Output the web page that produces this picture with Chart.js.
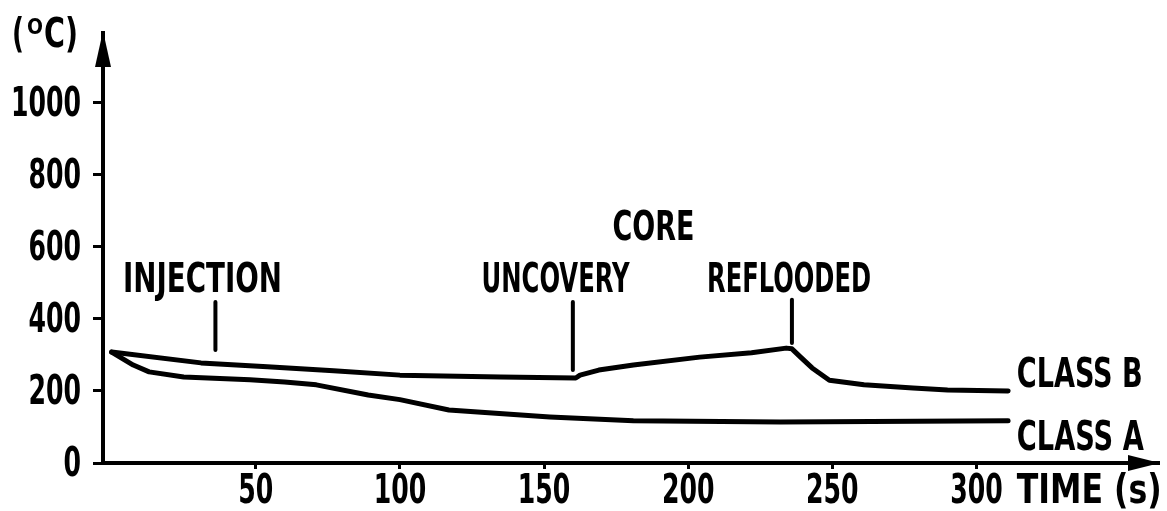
<!DOCTYPE html>
<html>
<head>
<meta charset="utf-8">
<script src="https://cdn.jsdelivr.net/npm/chart.js@4/dist/chart.umd.min.js"></script>
<style>
  html, body { margin: 0; padding: 0; background: #fff; }
  canvas { display: block; }
</style>
</head>
<body>
<canvas id="c" width="1167" height="511"></canvas>
<script>
// Cladding temperature (°C) against time (s)
const timeB = [0, 31, 54, 77, 100, 135, 161, 162.5, 169, 181, 204, 222, 234, 236, 239, 243, 249, 261, 278, 290, 311];
const tempB = [308, 278, 267, 256, 244, 239, 236, 244, 258, 272, 294, 306, 319, 317, 294, 264, 230, 217, 208, 203, 200];

const timeA = [0, 7.5, 13, 25, 48, 60, 71, 89, 100, 117, 152, 181, 232, 311];
const tempA = [308, 272, 253, 239, 231, 225, 217, 189, 176, 147, 128, 117, 114, 117];

const yTicks = [0, 200, 400, 600, 800, 1000];
const xTicks = [50, 100, 150, 200, 250, 300];

// Events marked along the transient
const eventNames = ['INJECTION', 'UNCOVERY', 'REFLOODED'];
const eventTimes = [36, 160, 236];
const markerFrom = [314, 258, 333];
const markerTo = [447, 447, 453];

const FONT = '"DejaVu Sans Condensed", "DejaVu Sans", sans-serif';
const DIGIT_W = 17.5;

const toPoints = (ts, vs) => ts.map((t, i) => ({ x: t, y: vs[i] }));

function text(ctx, str, x, y, align, size, maxW) {
  ctx.font = 'bold ' + size + 'px ' + FONT;
  ctx.textAlign = align;
  ctx.textBaseline = 'alphabetic';
  ctx.fillStyle = '#000';
  if (maxW) ctx.fillText(str, x, y, maxW); else ctx.fillText(str, x, y);
}

const decorations = {
  id: 'decorations',
  afterDraw(chart) {
    const ctx = chart.ctx;
    const xs = chart.scales.x, ys = chart.scales.y;
    const a = chart.chartArea;
    ctx.save();

    // tick labels, set in a narrow lettering
    xs.ticks.forEach((t, i) => {
      const s = String(t.value);
      text(ctx, s, xs.getPixelForTick(i), a.bottom + 40, 'center', 40, s.length * DIGIT_W);
    });
    ys.ticks.forEach((t, i) => {
      const s = String(t.value);
      text(ctx, s, a.left - 22, ys.getPixelForTick(i) + 13, 'right', 40, s.length * DIGIT_W);
    });

    // arrow heads on both axes
    ctx.fillStyle = '#000';
    ctx.beginPath();
    ctx.moveTo(a.left, a.top - 2);
    ctx.lineTo(a.left - 8, a.top + 34);
    ctx.lineTo(a.left + 8, a.top + 34);
    ctx.closePath();
    ctx.fill();
    ctx.beginPath();
    ctx.moveTo(a.right + 2, a.bottom);
    ctx.lineTo(a.right - 30, a.bottom - 8);
    ctx.lineTo(a.right - 30, a.bottom + 8);
    ctx.closePath();
    ctx.fill();

    // event markers
    ctx.strokeStyle = '#000';
    ctx.lineWidth = 4;
    ctx.lineCap = 'round';
    eventTimes.forEach((t, i) => {
      const px = xs.getPixelForValue(t);
      ctx.beginPath();
      ctx.moveTo(px, ys.getPixelForValue(markerFrom[i]));
      ctx.lineTo(px, ys.getPixelForValue(markerTo[i]));
      ctx.stroke();
    });

    // event labels
    const labelAt = [31.5, 154, 235];
    const labelW = [159, 148, 164];
    eventNames.forEach((n, i) => {
      text(ctx, n, xs.getPixelForValue(labelAt[i]), ys.getPixelForValue(476), 'center', 40, labelW[i]);
    });
    text(ctx, 'CORE', xs.getPixelForValue(188), ys.getPixelForValue(619), 'center', 40, 82);

    // series names
    text(ctx, 'CLASS B', xs.getPixelForValue(314), ys.getPixelForValue(211), 'left', 40, 126);
    text(ctx, 'CLASS A', xs.getPixelForValue(314), ys.getPixelForValue(36), 'left', 40, 127);

    // axis titles
    text(ctx, 'TIME (s)', xs.getPixelForValue(314), a.bottom + 40, 'left', 40, 145);
    text(ctx, '(', 12, 47, 'left', 40, 12);
    text(ctx, 'O', 27, 34, 'left', 21, 16);
    text(ctx, 'C)', 44, 47, 'left', 40, 34);

    ctx.restore();
  }
};

new Chart(document.getElementById('c'), {
  type: 'line',
  data: {
    datasets: [
      { label: 'CLASS B', data: toPoints(timeB, tempB) },
      { label: 'CLASS A', data: toPoints(timeA, tempA) }
    ]
  },
  options: {
    responsive: false,
    animation: false,
    events: [],
    layout: { padding: { top: 33, right: 9, left: 0, bottom: 0 } },
    elements: {
      line: { borderColor: '#000', borderWidth: 5, tension: 0, fill: false, borderJoinStyle: 'round', borderCapStyle: 'round' },
      point: { radius: 0 }
    },
    plugins: { legend: { display: false }, tooltip: { enabled: false } },
    scales: {
      x: {
        type: 'linear',
        min: -3,
        max: 363,
        afterFit: s => { s.height = 48; },
        afterBuildTicks: s => { s.ticks = xTicks.map(v => ({ value: v })); },
        ticks: { display: false, autoSkip: false, maxRotation: 0 },
        grid: { drawOnChartArea: false, drawTicks: true, tickLength: 6, color: '#000', lineWidth: 3 },
        border: { display: true, color: '#000', width: 4 }
      },
      y: {
        type: 'linear',
        min: 0,
        max: 1194,
        afterFit: s => { s.width = 103; },
        afterBuildTicks: s => { s.ticks = yTicks.map(v => ({ value: v })); },
        ticks: { display: false, autoSkip: false },
        grid: { drawOnChartArea: false, drawTicks: true, tickLength: 10, color: '#000', lineWidth: 3 },
        border: { display: true, color: '#000', width: 4 }
      }
    }
  },
  plugins: [decorations]
});
</script>
</body>
</html>
